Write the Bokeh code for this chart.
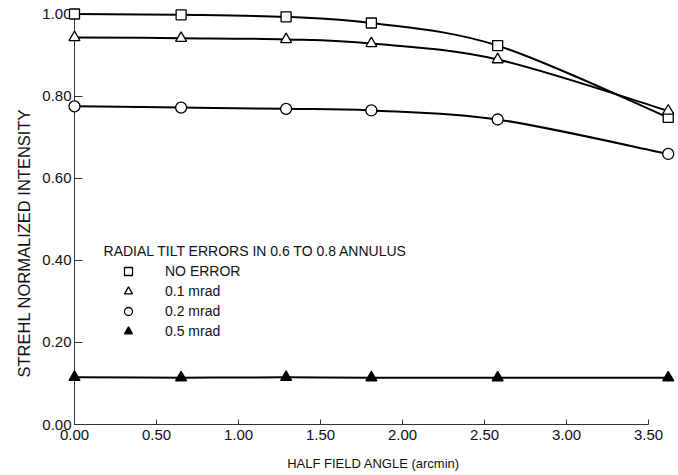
from bokeh.plotting import figure
from bokeh.models import (Range1d, FixedTicker, Legend, LegendItem, Label, Title,
                          PrintfTickFormatter)
from bokeh.embed import file_html
from bokeh.resources import INLINE

# ---- data ----
field_angle = [0.0, 0.65, 1.29, 1.81, 2.58, 3.62]
no_error = [1.000, 0.998, 0.993, 0.978, 0.923, 0.748]
tilt_01 = [0.943, 0.941, 0.938, 0.928, 0.889, 0.764]
tilt_02 = [0.775, 0.772, 0.769, 0.765, 0.743, 0.659]
tilt_05 = [0.115, 0.114, 0.115, 0.114, 0.114, 0.114]

x_ticks = [0.0, 0.5, 1.0, 1.5, 2.0, 2.5, 3.0, 3.5]
y_ticks = [0.0, 0.2, 0.4, 0.6, 0.8, 1.0]

legend_title = "RADIAL TILT ERRORS IN 0.6 TO 0.8 ANNULUS"
series_labels = ["NO ERROR", "0.1 mrad", "0.2 mrad", "0.5 mrad"]
y_title = "STREHL NORMALIZED INTENSITY"
x_title = "HALF FIELD ANGLE (arcmin)"

FONT = "Liberation Sans"
INK = "#111111"

p = figure(width=676, height=473, output_backend="svg", toolbar_location=None,
           x_range=Range1d(0, 3.646), y_range=Range1d(0, 1.0231),
           min_border_left=74, min_border_right=4, min_border_top=4,
           min_border_bottom=48)
p.outline_line_color = None
p.grid.visible = False

for ax in (p.xaxis[0], p.yaxis[0]):
    ax.axis_line_color = "#333333"
    ax.axis_line_width = 1
    ax.major_tick_line_color = "#333333"
    ax.major_tick_out = 0
    ax.minor_tick_line_color = None
    ax.major_label_text_font = FONT
    ax.major_label_text_color = INK
    ax.axis_label_text_font = FONT
    ax.axis_label_text_font_style = "normal"
    ax.axis_label_text_color = INK

p.xaxis.bounds = (0, 3.5)
p.xaxis.ticker = FixedTicker(ticks=x_ticks)
p.xaxis.formatter = PrintfTickFormatter(format="%.2f")
p.xaxis.major_tick_in = 5
p.xaxis.major_label_text_font_size = "15px"
p.xaxis.major_label_standoff = 5
p.xaxis.axis_label = x_title
p.xaxis.axis_label_text_font_size = "13px"
p.xaxis.axis_label_standoff = 13

p.yaxis.bounds = (0, 1.0)
p.yaxis.ticker = FixedTicker(ticks=y_ticks)
p.yaxis.formatter = PrintfTickFormatter(format="%.2f")
p.yaxis.major_tick_in = 8
p.yaxis.major_label_text_font_size = "15px"
p.yaxis.major_label_standoff = 3

# vertical axis title, sitting a little below the frame's centre as in the reference
p.add_layout(Title(text=y_title, align="left", offset=47, text_font=FONT,
                   text_font_size="16.5px", text_font_style="normal",
                   text_color=INK, standoff=14), "left")


def smooth_segments(xs, ys):
    """Catmull-Rom curve through the points, as cubic Bezier segments."""
    n = len(xs)
    segs = dict(x0=[], y0=[], x1=[], y1=[], cx0=[], cy0=[], cx1=[], cy1=[])
    for i in range(n - 1):
        a = max(i - 1, 0)
        d = min(i + 2, n - 1)
        segs["x0"].append(xs[i]); segs["y0"].append(ys[i])
        segs["x1"].append(xs[i + 1]); segs["y1"].append(ys[i + 1])
        segs["cx0"].append(xs[i] + (xs[i + 1] - xs[a]) / 6)
        segs["cy0"].append(ys[i] + (ys[i + 1] - ys[a]) / 6)
        segs["cx1"].append(xs[i + 1] - (xs[d] - xs[i]) / 6)
        segs["cy1"].append(ys[i + 1] - (ys[d] - ys[i]) / 6)
    return segs


series = [
    (no_error, "square", 10, "white"),
    (tilt_01, "triangle", 11, "white"),
    (tilt_02, "circle", 11, "white"),
    (tilt_05, "triangle", 11, "black"),
]

for vals, marker, size, fill in series:
    p.bezier(**smooth_segments(field_angle, vals), line_color="black", line_width=2)

marker_renderers = []
for vals, marker, size, fill in series:
    r = p.scatter(field_angle, vals, marker=marker, size=size, fill_color=fill,
                  line_color="black", line_width=1.3, level="overlay")
    marker_renderers.append(r)

legend = Legend(
    items=[LegendItem(label=lab, renderers=[r]) for lab, r in zip(series_labels, marker_renderers)],
    location=(44, 83), border_line_color=None, background_fill_alpha=0,
    padding=0, margin=0, spacing=0, label_height=20, glyph_height=20, glyph_width=20,
    label_standoff=27, label_text_font_size="14px", label_text_font=FONT,
    label_text_color=INK)
p.add_layout(legend)

p.add_layout(Label(x=0.177, y=0.4236, text=legend_title, text_baseline="middle",
                   text_font=FONT, text_font_size="14px", text_color=INK))

open("out.html", "w").write(file_html(p, INLINE))
